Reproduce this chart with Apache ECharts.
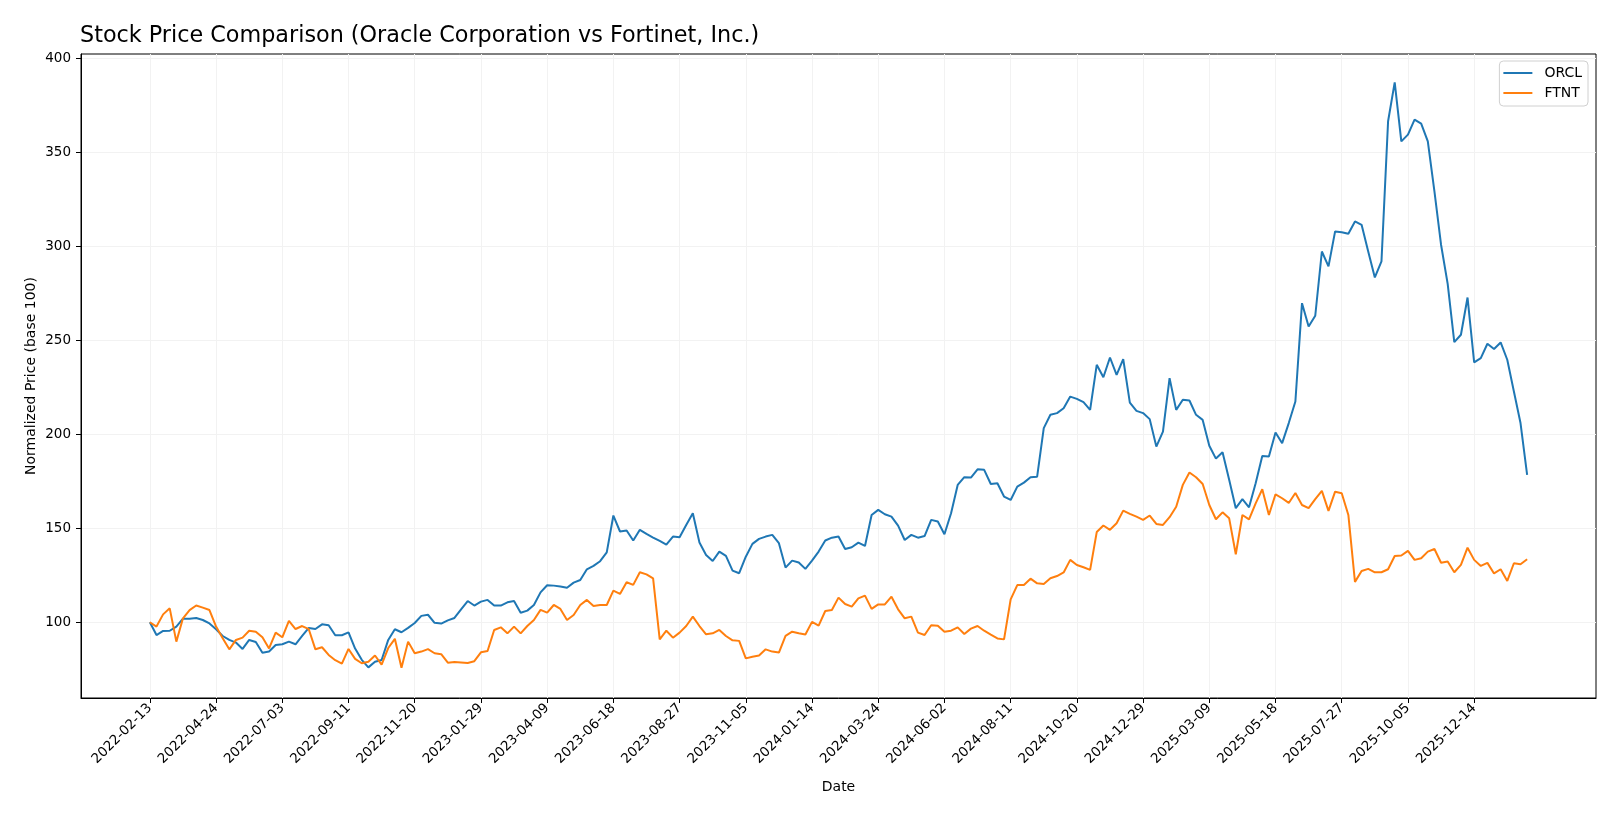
<!DOCTYPE html>
<html>
<head>
<meta charset="utf-8">
<script src="https://cdn.jsdelivr.net/npm/echarts@6/dist/echarts.min.js"></script>
<style>
html,body{margin:0;padding:0;background:#fff;}
#chart{width:1620px;height:819px;}
</style>
</head>
<body>
<div id="chart"></div>
<script>
// Weekly points, week index 0 = 2022-02-13
const tickLabels = ['2022-02-13','2022-04-24','2022-07-03','2022-09-11','2022-11-20','2023-01-29','2023-04-09','2023-06-18','2023-08-27','2023-11-05','2024-01-14','2024-03-24','2024-06-02','2024-08-11','2024-10-20','2024-12-29','2025-03-09','2025-05-18','2025-07-27','2025-10-05','2025-12-14'];
const weeksPerTick = 10;
const yTicks = [100,150,200,250,300,350,400];

const orcl = [100,93.2,95.4,95.5,97.7,101.9,101.9,102.3,101.2,99.4,
96.3,92.7,90.6,89.2,85.8,90.6,89.5,83.8,84.4,87.9,
88.3,89.7,88.3,92.7,97.0,96.4,98.9,98.4,93.1,93.1,
94.6,86.0,80.0,76.0,79.0,79.9,90.6,96.3,94.7,97.0,
99.6,103.4,104.0,99.7,99.3,101.0,102.3,106.9,111.3,108.9,
111.0,111.9,108.9,108.9,110.6,111.3,105.1,106.2,109.2,115.9,
119.7,119.5,119.0,118.4,121.1,122.5,128.2,130.0,132.5,137.2,
156.8,148.3,148.8,143.5,149.2,147.0,145.1,143.3,141.3,145.6,
145.2,151.8,158.0,142.4,135.8,132.6,137.6,135.3,127.5,126.1,
134.9,141.7,144.4,145.6,146.5,142.1,129.1,132.8,131.8,128.4,
132.8,137.6,143.5,145.0,145.6,139.0,139.9,142.4,140.6,157.1,
159.8,157.5,156.2,151.4,143.8,146.5,145.0,145.9,154.5,153.6,
146.8,158.0,173.1,177.2,177.0,181.4,181.1,173.6,174.0,166.9,
165.1,172.2,174.3,177.2,177.5,203.3,210.4,211.3,213.9,220.1,
218.9,217.1,213.0,237.0,230.4,240.9,231.7,240.0,216.9,212.5,
211.3,208.1,193.5,201.5,229.9,213.0,218.4,218.0,210.4,207.7,
193.9,187.1,190.5,175.8,160.7,165.5,161.2,174.0,188.5,188.2,
201.0,195.3,206.0,217.5,269.8,257.4,263.1,297.3,289.4,308.0,
307.5,306.7,313.3,311.5,297.3,283.5,292.0,366.6,387.3,355.9,
359.5,367.5,365.3,355.9,329.3,300.9,280.1,249.1,253.0,272.8,
238.3,240.6,248.2,245.4,248.9,239.7,222.8,206.0,178.4];

const ftnt = [100,97.7,104.2,107.4,89.7,102.1,106.5,108.9,107.8,106.5,
97.7,91.5,85.6,90.6,91.8,95.5,95.0,92.0,86.1,94.5,
92.0,100.7,96.4,98.0,96.3,85.6,86.7,82.6,79.8,78.0,
85.8,80.5,78.2,79.0,82.3,77.5,86.3,91.2,75.8,89.7,
83.5,84.4,85.7,83.5,83.0,78.5,78.8,78.6,78.3,79.3,
84.0,84.7,95.9,97.3,94.1,97.7,94.1,98.0,101.2,106.6,
105.1,109.2,107.1,101.2,103.9,109.2,111.9,108.7,109.2,109.2,
116.8,115.1,121.3,119.9,126.6,125.5,123.4,90.9,95.5,91.8,
94.5,98.0,103.0,98.0,93.6,94.1,95.9,92.7,90.4,90.1,
80.8,81.7,82.3,85.6,84.4,83.9,92.8,95.0,94.2,93.5,
100.2,98.2,106.0,106.5,113.1,109.7,108.3,112.7,114.2,107.1,
109.5,109.5,113.6,106.9,102.1,103.0,94.5,93.2,98.4,98.2,
95.0,95.5,97.3,93.8,96.6,98.0,95.5,93.4,91.4,90.9,
112.2,119.8,119.8,123.2,120.7,120.4,123.4,124.6,126.5,133.2,
130.5,129.3,127.9,148.0,151.5,149.2,152.7,159.4,157.7,156.2,
154.5,156.8,152.3,151.8,155.9,161.5,173.1,179.7,177.2,173.6,
162.4,154.8,158.5,155.3,136.2,157.1,154.8,163.3,170.8,157.1,
168.1,166.0,163.5,168.8,162.4,160.7,165.5,169.9,159.3,169.5,
168.7,157.1,121.5,127.3,128.4,126.6,126.6,128.2,135.3,135.5,
138.0,133.2,134.1,137.6,139.0,131.7,132.3,126.6,130.5,139.7,
133.2,130.0,131.6,126.0,128.2,122.0,131.4,130.9,133.5];

const xTickValues = tickLabels.map((_, k) => k * weeksPerTick);
const toPairs = arr => arr.map((v, i) => [i, v]);
const font = 'DejaVu Sans';

const chart = echarts.init(document.getElementById('chart'), null, {renderer: 'canvas'});
chart.setOption({
  backgroundColor: '#fff',
  animation: false,
  textStyle: {fontFamily: font},
  title: {
    text: 'Stock Price Comparison (Oracle Corporation vs Fortinet, Inc.)',
    left: 80, top: 25, padding: 0,
    textStyle: {fontFamily: font, fontSize: 22.3, fontWeight: 'normal', color: '#000'}
  },
  legend: {
    orient: 'vertical',
    right: 32, top: 61,
    padding: [5, 6, 6, 4],
    itemGap: 6,
    itemWidth: 29, itemHeight: 2,
    icon: 'rect',
    backgroundColor: 'rgba(255,255,255,0.8)',
    borderColor: '#d0d0d0', borderWidth: 1, borderRadius: 4,
    textStyle: {fontFamily: font, fontSize: 14, color: '#000', padding: [0, 0, 0, 7]},
    data: ['ORCL', 'FTNT']
  },
  grid: {
    left: 81, right: 24, top: 54, bottom: 121,
    show: true, borderColor: '#000', borderWidth: 1,
    containLabel: false, outerBoundsMode: 'none'
  },
  xAxis: {
    type: 'value',
    min: -10.4, max: 218.4,
    name: 'Date', nameLocation: 'middle', nameGap: 82, nameMoveOverlap: false,
    nameTextStyle: {fontFamily: font, fontSize: 14, color: '#000'},
    axisLine: {show: true, onZero: false, lineStyle: {color: '#000', width: 1}},
    axisTick: {show: true, length: 5, inside: false, customValues: xTickValues, lineStyle: {color: '#000'}},
    axisLabel: {
      customValues: xTickValues, rotate: 45, margin: 8,
      fontFamily: font, fontSize: 13.5, color: '#000',
      formatter: v => tickLabels[Math.round(v / weeksPerTick)] || ''
    },
    splitLine: {show: true, lineStyle: {color: '#f2f2f2', width: 1}}
  },
  yAxis: {
    type: 'value',
    min: 59.7, max: 402.4,
    name: 'Normalized Price (base 100)', nameLocation: 'middle', nameGap: 43, nameMoveOverlap: false,
    nameTextStyle: {fontFamily: font, fontSize: 14, color: '#000'},
    axisLine: {show: true, onZero: false, lineStyle: {color: '#000', width: 1}},
    axisTick: {show: true, length: 5, inside: false, customValues: yTicks, lineStyle: {color: '#000'}},
    axisLabel: {customValues: yTicks, margin: 10, fontFamily: font, fontSize: 13.5, color: '#000'},
    splitLine: {show: true, lineStyle: {color: '#f2f2f2', width: 1}}
  },
  series: [
    {name: 'ORCL', type: 'line', data: toPairs(orcl), symbol: 'none', showSymbol: false,
     lineStyle: {color: '#1f77b4', width: 2}, itemStyle: {color: '#1f77b4'}},
    {name: 'FTNT', type: 'line', data: toPairs(ftnt), symbol: 'none', showSymbol: false,
     lineStyle: {color: '#ff7f0e', width: 2}, itemStyle: {color: '#ff7f0e'}}
  ]
});
</script>
</body>
</html>
